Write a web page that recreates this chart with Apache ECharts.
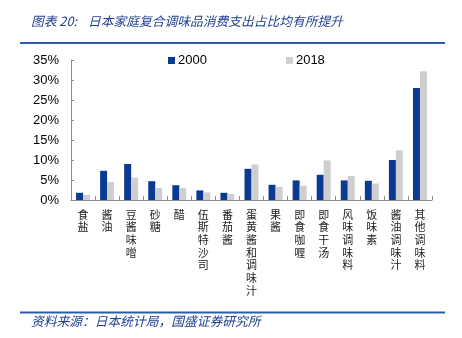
<!DOCTYPE html>
<html>
<head>
<meta charset="utf-8">
<script src="https://cdn.jsdelivr.net/npm/echarts@6/dist/echarts.min.js"></script>
<style>
  html, body { margin: 0; padding: 0; background: #fff; }
  #chart { width: 462px; height: 338px; }
</style>
</head>
<body>
<div id="chart"></div>
<script>
// Household spending share of compound seasonings in Japan (%)
const categories = ['食盐', '酱油', '豆酱味噌', '砂糖', '醋', '伍斯特沙司', '番茄酱', '蛋黄酱和调味汁',
  '果酱', '即食咖喱', '即食干汤', '风味调味料', '饭味素', '酱油调味汁', '其他调味料'];
const share2000 = [1.8, 7.3, 9.0, 4.7, 3.7, 2.4, 1.8, 7.8, 3.8, 4.9, 6.3, 4.9, 4.8, 10.0, 28.0];
const share2018 = [1.3, 4.5, 5.6, 3.0, 3.0, 1.9, 1.5, 8.9, 3.3, 3.6, 9.9, 6.0, 4.1, 12.4, 32.2];
const yTicks = [0, 5, 10, 15, 20, 25, 30, 35];
const seriesNames = ['2000', '2018'];

const titlePrefix = '图表 20:';
const titleText = '日本家庭复合调味品消费支出占比均有所提升';
const sourceText = '资料来源：日本统计局，国盛证券研究所';

const chart = echarts.init(document.getElementById('chart'), null, { renderer: 'canvas' });
const cjk = '"Noto Sans CJK SC", sans-serif';
const latin = '"Liberation Sans", Arial, sans-serif';
const blue = '#0A3A92';
const gray = '#CFCFCF';
const axisGray = '#8C8C8C';
const noteBlue = '#1E3F8F';

chart.setOption({
  animation: false,
  backgroundColor: '#fff',
  graphic: [
    { type: 'text', left: 31, top: 15,
      style: { text: titlePrefix, font: 'italic 12.75px ' + cjk, fill: noteBlue } },
    { type: 'text', left: 88, top: 15,
      style: { text: titleText, font: 'italic 12.75px ' + cjk, fill: noteBlue } },
    { type: 'line', shape: { x1: 20, y1: 43, x2: 445, y2: 43 },
      style: { stroke: '#2A5CAA', lineWidth: 2 } },
    { type: 'line', shape: { x1: 20, y1: 312.5, x2: 445, y2: 312.5 },
      style: { stroke: '#2A5CAA', lineWidth: 2 } },
    { type: 'text', left: 31, top: 315,
      style: { text: sourceText, font: 'italic 12.75px ' + cjk, fill: noteBlue } }
  ],
  legend: {
    left: 163, top: 49,
    itemWidth: 7, itemHeight: 7, itemGap: 79,
    icon: 'rect',
    textStyle: { fontFamily: latin, fontSize: 13, color: '#000', padding: [0, 0, 0, -2] },
    data: seriesNames
  },
  grid: { left: 71, right: 30, top: 60, bottom: 138, containLabel: false },
  xAxis: {
    type: 'category',
    data: categories,
    axisLine: { lineStyle: { color: axisGray, width: 1 } },
    axisTick: { show: true, inside: true, length: 4, lineStyle: { color: axisGray } },
    axisLabel: {
      interval: 0, margin: 8,
      fontFamily: cjk, fontSize: 11, lineHeight: 12.7, color: '#222',
      verticalAlign: 'top',
      formatter: v => v.split('').join('\n')
    }
  },
  yAxis: {
    type: 'value',
    min: yTicks[0], max: yTicks[yTicks.length - 1], interval: 5,
    axisLine: { show: true, lineStyle: { color: axisGray, width: 1 } },
    axisTick: { show: true, inside: true, length: 3, lineStyle: { color: axisGray } },
    splitLine: { show: false },
    axisLabel: {
      margin: 12, fontFamily: latin, fontSize: 13, color: '#000',
      formatter: '{value}%'
    }
  },
  series: [
    { name: seriesNames[0], type: 'bar', data: share2000, barWidth: 7, barGap: '0%',
      itemStyle: { color: blue } },
    { name: seriesNames[1], type: 'bar', data: share2018, barWidth: 7,
      itemStyle: { color: gray } }
  ]
});
</script>
</body>
</html>
